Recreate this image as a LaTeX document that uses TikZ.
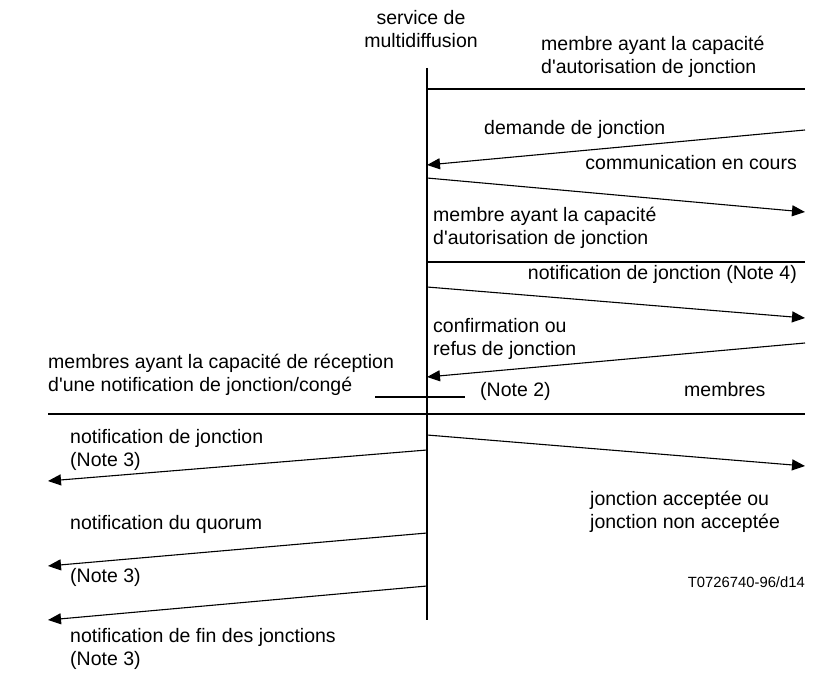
\documentclass[tikz,border=0pt]{standalone}
\usepackage{fontspec}
\setmainfont{Liberation Sans}
\usetikzlibrary{arrows.meta}
\begin{document}
\begin{tikzpicture}[x=1pt,y=-1pt,
	msg/.style={line width=1.1pt,-{Triangle[length=13pt,width=11pt]}},
	bar/.style={line width=1.8pt},
	lbl/.style={inner sep=0pt,align=left,font=\fontsize{19.5}{23}\selectfont}]

\useasboundingbox (0,0) rectangle (830,679);

% service de multidiffusion
\node[lbl,align=center] (svc) at (421,29) {service de\\multidiffusion};
\coordinate (svcTop) at (427,68);
\coordinate (svcBot) at (427,620);
\draw[bar] (svcTop) -- (svcBot);

% premier membre
\node[lbl,anchor=west] (mbrA) at (541,57) {membre ayant la capacit\'e\\d\textquotesingle autorisation de jonction};
\coordinate (a1) at (427,89);
\coordinate (a2) at (805,89);
\draw[bar] (a1) -- (a2);

\coordinate (s1) at (805,130);
\coordinate (t1) at (427,165);
\draw[msg] (s1) -- (t1);
\node[lbl,anchor=west] (dem) at (484,129) {demande de jonction};

\coordinate (s2) at (427,178);
\coordinate (t2) at (805,212);
\draw[msg] (s2) -- (t2);
\node[lbl,anchor=east] (com) at (797,163) {communication en cours};

% second membre
\node[lbl,anchor=west] (mbrB) at (433,228) {membre ayant la capacit\'e\\d\textquotesingle autorisation de jonction};
\coordinate (b1) at (427,262);
\coordinate (b2) at (805,262);
\draw[bar] (b1) -- (b2);

\node[lbl,anchor=east] (notif4) at (797,274) {notification de jonction (Note 4)};
\coordinate (s3) at (427,287);
\coordinate (t3) at (805,318);
\draw[msg] (s3) -- (t3);

\node[lbl,anchor=west] (conf) at (433,339) {confirmation ou\\refus de jonction};
\coordinate (s4) at (805,343);
\coordinate (t4) at (427,377);
\draw[msg] (s4) -- (t4);

% membres
\node[lbl,anchor=west] (mbrC) at (48,375) {membres ayant la capacit\'e de r\'eception\\d\textquotesingle une notification de jonction/cong\'e};
\node[lbl,anchor=west] (note2) at (480,391) {(Note 2)};
\node[lbl,anchor=west] (mbrs) at (684,390) {membres};
\coordinate (c1) at (375,397);
\coordinate (c2) at (465,397);
\draw[bar] (c1) -- (c2);
\coordinate (d1) at (48,414);
\coordinate (d2) at (805,414);
\draw[bar] (d1) -- (d2);

\coordinate (s5) at (427,435);
\coordinate (t5) at (805,466);
\draw[msg] (s5) -- (t5);
\node[lbl,anchor=west] (acc) at (590,512) {jonction accept\'ee ou\\jonction non accept\'ee};

\node[lbl,anchor=west] (notif3) at (70,450) {notification de jonction\\(Note 3)};
\coordinate (s6) at (427,450);
\coordinate (t6) at (48,481);
\draw[msg] (s6) -- (t6);

\node[lbl,anchor=west] (quorum) at (70,524) {notification du quorum};
\coordinate (s7) at (427,533);
\coordinate (t7) at (48,566);
\draw[msg] (s7) -- (t7);
\node[lbl,anchor=west] (note3b) at (70,577) {(Note 3)};

\coordinate (s8) at (427,586);
\coordinate (t8) at (48,620);
\draw[msg] (s8) -- (t8);
\node[lbl,anchor=west] (fin) at (70,649) {notification de fin des jonctions\\(Note 3)};

\node[inner sep=0pt,anchor=east,font=\fontsize{14.8}{17}\selectfont] (ref) at (805,582) {T0726740-96/d14};

\end{tikzpicture}
\end{document}
